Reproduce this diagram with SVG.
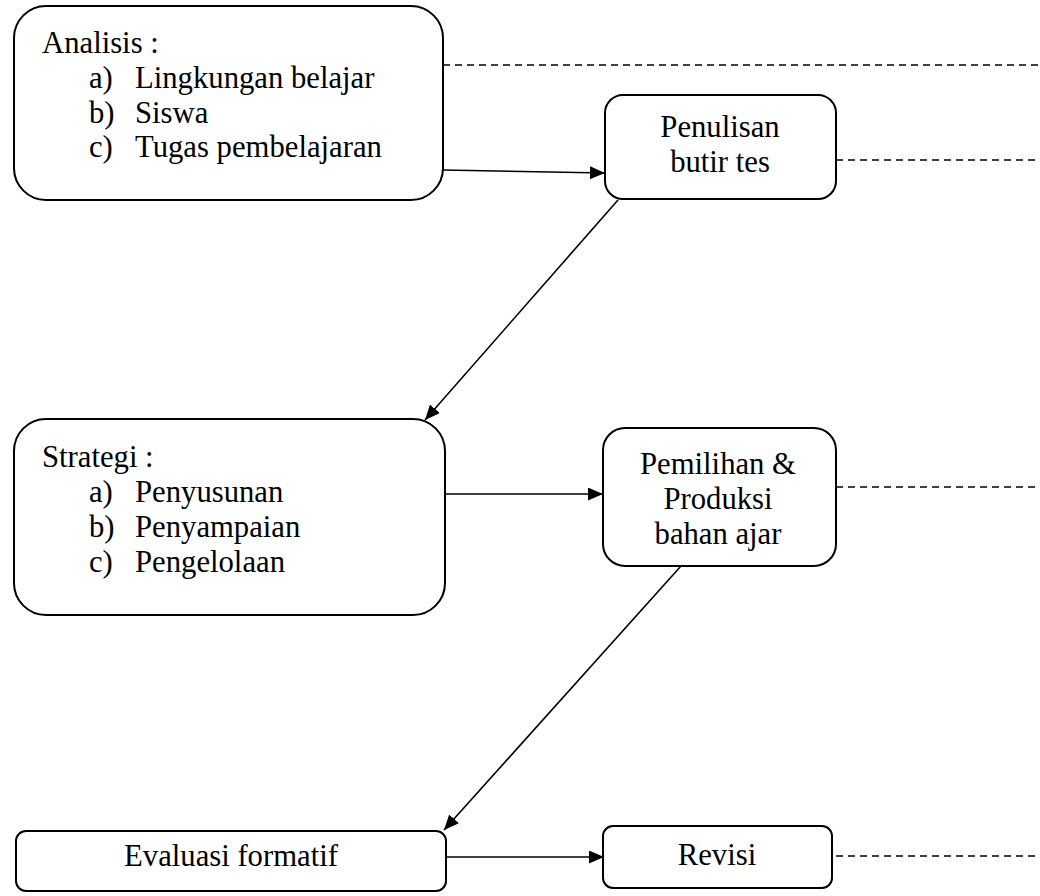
<svg xmlns="http://www.w3.org/2000/svg" width="1040" height="896" viewBox="0 0 1040 896">
<style>
.box{fill:#fff;stroke:#000;stroke-width:2}
text{font-family:'Liberation Serif','Times New Roman','DejaVu Serif',serif;font-size:30.7px;fill:#000}
.c{text-anchor:middle}
.ln{stroke:#000;stroke-width:1.6;fill:none}
.dash{stroke:#000;stroke-width:1.6;stroke-dasharray:7 5;fill:none}
</style>
<defs>
<marker id="ah" markerUnits="userSpaceOnUse" markerWidth="15" markerHeight="13" refX="15" refY="6.5" orient="auto">
<path d="M0,0 L15,6.5 L0,13 z" fill="#000"/>
</marker>
</defs>
<rect width="1040" height="896" fill="#fff"/>
<g id="connectors">
<line class="dash" x1="443" y1="65" x2="1040" y2="65"/>
<line class="dash" x1="836" y1="160" x2="1040" y2="160"/>
<line class="dash" x1="836" y1="487" x2="1040" y2="487"/>
<line class="dash" x1="836" y1="856" x2="1040" y2="856"/>
<line class="ln" x1="443" y1="170" x2="605" y2="173" marker-end="url(#ah)"/>
<line class="ln" x1="618" y1="200" x2="425" y2="420" marker-end="url(#ah)"/>
<line class="ln" x1="445" y1="494" x2="603" y2="494" marker-end="url(#ah)"/>
<line class="ln" x1="681" y1="566" x2="444" y2="830" marker-end="url(#ah)"/>
<line class="ln" x1="446" y1="857" x2="604" y2="857" marker-end="url(#ah)"/>
</g>
<g font-family="Liberation Serif, Times New Roman, DejaVu Serif, serif" font-size="30.7">
<g id="analisis">
<rect class="box" x="14" y="6" width="429" height="194" rx="32"/>
<text x="42" y="53">Analisis :</text>
<text x="89" y="88">a)</text><text x="135" y="88">Lingkungan belajar</text>
<text x="89" y="123">b)</text><text x="135" y="123">Siswa</text>
<text x="89" y="157">c)</text><text x="135" y="157">Tugas pembelajaran</text>
</g>
<g id="penulisan">
<rect class="box" x="605" y="95" width="231" height="104" rx="18"/>
<text class="c" x="720" y="137">Penulisan</text>
<text class="c" x="720" y="172">butir tes</text>
</g>
<g id="strategi">
<rect class="box" x="14" y="419" width="431" height="196" rx="32"/>
<text x="42" y="467">Strategi :</text>
<text x="89" y="502">a)</text><text x="135" y="502">Penyusunan</text>
<text x="89" y="537">b)</text><text x="135" y="537">Penyampaian</text>
<text x="89" y="572">c)</text><text x="135" y="572">Pengelolaan</text>
</g>
<g id="pemilihan">
<rect class="box" x="603" y="428" width="233" height="138" rx="22"/>
<text class="c" x="718" y="474">Pemilihan &amp;</text>
<text class="c" x="718" y="509">Produksi</text>
<text class="c" x="718" y="544">bahan ajar</text>
</g>
<g id="evaluasi">
<rect class="box" x="16" y="831" width="430" height="60" rx="10"/>
<text class="c" x="231" y="866">Evaluasi formatif</text>
</g>
<g id="revisi">
<rect class="box" x="603" y="826" width="229" height="62" rx="10"/>
<text class="c" x="717" y="865">Revisi</text>
</g>
</g>
</svg>
